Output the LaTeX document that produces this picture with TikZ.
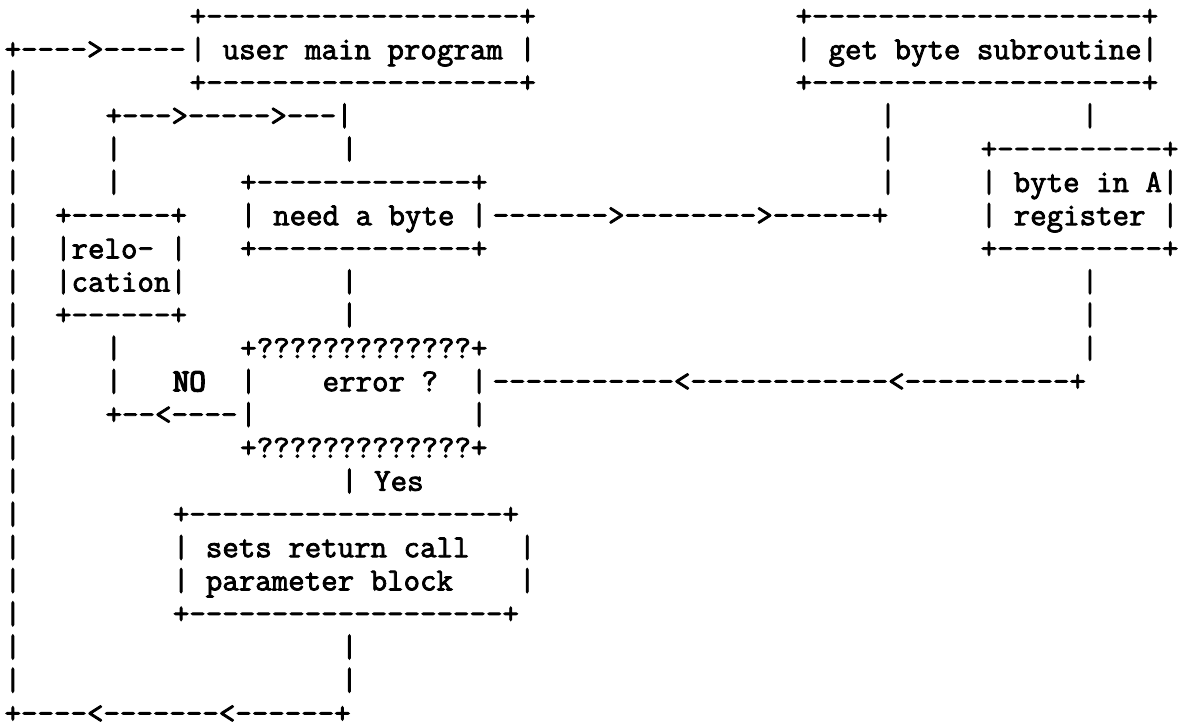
\documentclass[tikz,border=0pt]{standalone}
\usepackage{fontspec}
\newfontfamily\artfont[FakeBold=2.5,Ligatures=TeXOff]{Latin Modern Mono}
\newfontfamily\artheavy[FakeBold=4.5,Ligatures=TeXOff]{Latin Modern Mono}
\begin{document}
\begin{tikzpicture}[x=16.83pt, y=-33.2pt,
  art/.style={anchor=base west, inner sep=0pt, outer sep=0pt, text depth=0pt,
              font=\artfont\fontsize{32}{36}\selectfont},
  artheavy/.style={art, font=\artheavy\fontsize{32}{36}\selectfont}]
\useasboundingbox[fill=white] (-0.273,0.217) rectangle (69.9,22.11);

% return path down the left margin
\node[art] (loop in) at (0,2) {+---->-----};
\foreach \r in {3,...,21} \node[art] (back \r) at (0,\r) {|};
\node[art] (loop out) at (0,22) {+----<-------<------+};

% user main program
\node[art] (main top) at (11,1) {+-------------------+};
\node[art] (main)     at (11,2) {|~user~main~program~|};
\node[art] (main bot) at (11,3) {+-------------------+};

% get byte subroutine
\node[art] (get top) at (47,1) {+--------------------+};
\node[art] (get)     at (47,2) {|~get~byte~subroutine|};
\node[art] (get bot) at (47,3) {+--------------------+};

% branch from the relocation box back into the main flow
\node[art] (reloc up) at (6,4) {+--->----->---|};
\foreach \r in {5,6} \node[art] (reloc in \r) at (6,\r) {|};
\node[art] (main down) at (20,5) {|};

% relocation
\node[art] (reloc top) at (3,7)  {+------+};
\node[art] (reloc a)   at (3,8)  {|relo-~|};
\node[art] (reloc b)   at (3,9)  {|cation|};
\node[art] (reloc bot) at (3,10) {+------+};

% need a byte
\node[art] (need top) at (14,6) {+-------------+};
\node[art] (need)     at (14,7) {|~need~a~byte~|};
\node[art] (need bot) at (14,8) {+-------------+};
\node[art] (need call) at (29,7) {------->-------->------+};
\foreach \r in {9,10} \node[art] (need down \r) at (20,\r) {|};

% call line and result line on the right
\foreach \r in {4,5,6} \node[art] (call up \r) at (52,\r) {|};
\node[art] (get down) at (64,4) {|};

% byte in A register
\node[art] (reg top) at (58,5) {+----------+};
\node[art] (reg a)   at (58,6) {|~byte~in~A|};
\node[art] (reg b)   at (58,7) {|~register~|};
\node[art] (reg bot) at (58,8) {+----------+};
\foreach \r in {9,10,11} \node[art] (reg down \r) at (64,\r) {|};

% error ? decision
\node[art] (err top) at (14,11) {+?????????????+};
\node[art] (err)     at (14,12) {|~~~~error~?~~|};
\node[art] (err mid) at (14,13) {|~~~~~~~~~~~~~|};
\node[art] (err bot) at (14,14) {+?????????????+};
\node[art] (err back) at (29,12) {-----------<------------<----------+};
\foreach \r in {11,12} \node[art] (no up \r) at (6,\r) {|};
\node[artheavy] (no) at (10,12) {NO};
\node[art] (no path) at (6,13) {+--<----};
\node[art] (yes) at (20,15) {|~Yes};

% sets return call parameter block
\node[art] (ret top) at (10,16) {+-------------------+};
\node[art] (ret a)   at (10,17) {|~sets~return~call~~~|};
\node[art] (ret b)   at (10,18) {|~parameter~block~~~~|};
\node[art] (ret bot) at (10,19) {+-------------------+};
\foreach \r in {20,21} \node[art] (ret down \r) at (20,\r) {|};
\end{tikzpicture}
\end{document}
